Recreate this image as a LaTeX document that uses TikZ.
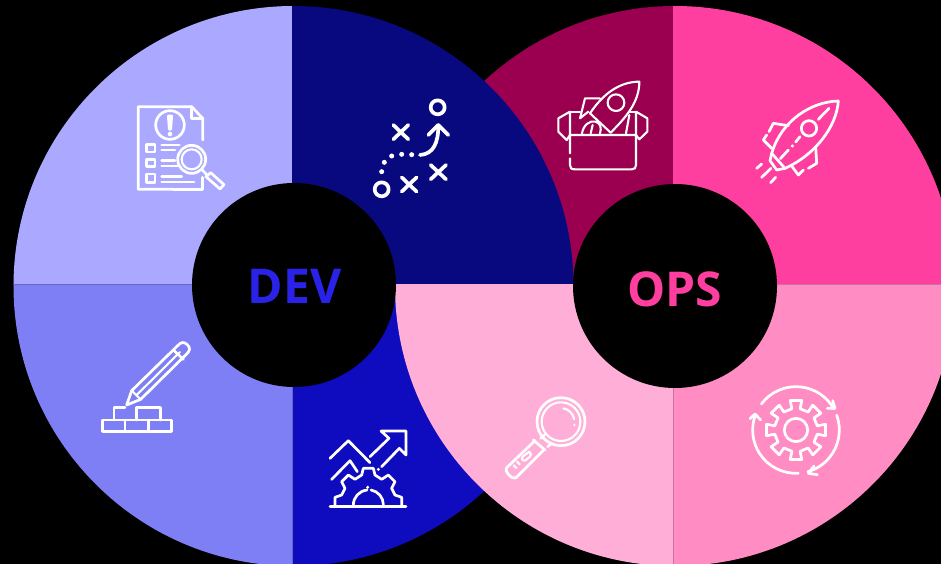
\documentclass[tikz,border=0pt]{standalone}
\usepackage{fontspec}
\setmainfont{Open Sans}
\definecolor{devTL}{HTML}{ABA9FF}
\definecolor{devTR}{HTML}{09097F}
\definecolor{devBL}{HTML}{7F7FF5}
\definecolor{devBR}{HTML}{0F0BBE}
\definecolor{opsTL}{HTML}{9B0050}
\definecolor{opsTR}{HTML}{FF3F9F}
\definecolor{opsBL}{HTML}{FFAFD7}
\definecolor{opsBR}{HTML}{FF8DC4}
\definecolor{devText}{HTML}{2A22E6}
\tikzset{
  seam/.style={line width=.4pt,draw=#1},
  icon/.style={draw=white,line width=2.7pt,line cap=round,line join=round},
  iconthin/.style={icon,line width=2.1pt},
  hub/.style={circle,fill=black,minimum size=204pt,inner sep=0pt},
  hublabel/.style={font=\fontsize{48}{48}\selectfont\bfseries,inner sep=0pt}
}
% colour, circle centre x, clip rectangle x0 y0 x1 y1
\newcommand{\quadrantfill}[6]{%
  \begin{scope}\clip (#3,#4) rectangle (#5,#6);
  \fill[#1] (#2,286) circle[radius=280];\end{scope}}
\begin{document}
\begin{tikzpicture}[x=1pt,y=1pt,yscale=-1]
\path[fill=black] (0,0) rectangle (941,564);
\useasboundingbox (0,0) rectangle (941,564);
\clip (0,0) rectangle (941,564);
% sectors
\quadrantfill{devBR}{293.5}{292}{284}{600}{570}
\quadrantfill{opsTL}{675}{380}{0}{673}{284}
\quadrantfill{devTL}{293.5}{0}{0}{292}{284}
\quadrantfill{devBL}{293.5}{0}{284}{292}{570}
\quadrantfill{devTR}{293.5}{292}{0}{600}{284}
\quadrantfill{opsBL}{675}{380}{284}{673}{570}
\quadrantfill{opsTR}{675}{673}{0}{960}{284}
\quadrantfill{opsBR}{675}{673}{284}{960}{570}
\draw[seam=devBL!80!black] (14,284) -- (292,284) -- (292,566);
\draw[seam=opsBR!80!black] (673,564) -- (673,284) -- (941,284);
% hubs
\node[hub] (devhub) at (294,285) {};
\node[hub] (opshub) at (675,286) {};
\node[hublabel,text=devText] (devlabel) at (294.5,286) {DEV};
\node[hublabel,text=opsTR] (opslabel) at (675,289) {OPS};
% icon: document with magnifier
\begin{scope}[shift={(120,90)},scale=1/3]
\draw[icon] (160,298) -- (55,298) -- (55,50) -- (215,50) -- (248,85) -- (248,150);
\draw[icon] (248,262) -- (248,298) -- (160,298);
\draw[icon] (215,50) -- (215,85) -- (248,85);
\draw[icon] (150,105) circle[radius=43];
\draw[icon] (145,78) -- (155,78) -- (152,118) -- (148,118) -- cycle;
\fill[white] (150,132) circle[radius=7];
\draw[icon] (80,163) rectangle (105,186);
\draw[icon] (80,208) rectangle (105,230);
\draw[icon] (80,252) rectangle (105,277);
\draw[icon] (125,165) -- (178,165) (125,180) -- (165,180);
\draw[icon] (125,212) -- (165,212) (125,228) -- (175,228);
\draw[icon] (125,260) -- (185,260) (125,276) -- (222,276);
\draw[icon] (215,208) circle[radius=42];
\draw[iconthin] (215,208) circle[radius=30];
\draw[icon] (247,240) -- (262,256);
\draw[icon] (258,260) -- (272,248) -- (312,284) -- (300,297) -- cycle;
\end{scope}
% icon: play diagram
\begin{scope}[shift={(360,90)},scale=1/3]
\tikzset{play/.style={draw=white,line width=3.7pt,line cap=round,line join=round}}
\draw[play] (233,52) circle[radius=21];
\draw[play] (65,298) circle[radius=21];
\draw[play] (100,105) -- (145,148) (145,105) -- (100,148);
\draw[play] (125,262) -- (170,305) (170,262) -- (125,305);
\draw[play] (212,225) -- (258,268) (258,225) -- (212,268);
\draw[play] (180,195) .. controls (220,192) and (235,160) .. (235,105);
\draw[play] (205,135) -- (235,105) -- (265,135);
\foreach \px/\py in {155/194,125/193,95/198,73/217,65/245}
  \fill[white] (\px,\py) circle[radius=7.5];
\end{scope}
% icon: pencil and bricks
\begin{scope}[shift={(90,330)},scale=1/3]
\draw[icon] (110,225) -- (125,182) -- (262,48) .. controls (272,36) and (282,34) .. (292,44) .. controls (302,54) and (300,62) .. (290,72) -- (152,208) -- cycle;
\draw[iconthin] (140,195) -- (270,66);
\draw[icon] (250,60) -- (280,88);
\draw[iconthin] (125,182) -- (152,208);
\draw[icon] (38,270) rectangle (105,305);
\draw[icon] (105,270) rectangle (175,305);
\draw[icon] (175,270) rectangle (245,305);
\draw[icon] (72,270) -- (72,232) -- (105,232);
\draw[icon] (140,270) -- (140,232) -- (212,232) -- (212,270);
\end{scope}
% icon: growth gear
\begin{scope}[shift={(320,420)},scale=1/3]
\draw[icon] (30,115) -- (85,62) -- (150,128);
\draw[icon] (150,110) -- (207,55) -- (183,33) -- (258,33) -- (258,105) -- (238,85) -- (185,140);
\draw[icon] (35,178) -- (90,122) -- (112,155);
\fill[white] (175,148) circle[radius=5];
\draw[icon] (30,260) -- (258,260);
\draw[icon] (45,255) -- (45,232) -- (65,225) -- (75,205) -- (65,185) -- (85,165) -- (105,178) -- (125,165) -- (130,145) -- (160,145) -- (165,165) -- (185,178) -- (205,165) -- (225,185) -- (215,205) -- (225,225) -- (245,232) -- (245,255);
\draw[icon] (100,255) arc[start angle=180,end angle=265,radius=45];
\draw[icon] (153,210) arc[start angle=280,end angle=360,radius=45];
\fill[white] (143,202) circle[radius=5];
\end{scope}
% icon: rocket in a box
\begin{scope}[shift={(550,70)},scale=1/3]
\draw[iconthin] (60,250) -- (60,195) -- (258,195) -- (258,285) .. controls (258,294) and (254,298) .. (245,298) -- (75,298) .. controls (64,298) and (60,294) .. (60,285) -- (60,265);
\draw[iconthin] (60,195) -- (60,125) -- (25,145) -- (25,185) -- (50,210) -- (60,195);
\draw[iconthin] (60,125) -- (90,125);
\draw[iconthin] (258,195) -- (258,125) -- (292,145) -- (292,185) -- (268,208) -- (258,195);
\draw[iconthin] (258,125) -- (240,125);
\draw[iconthin] (120,130) .. controls (160,70) and (210,35) .. (268,35) .. controls (268,95) and (230,140) .. (182,188);
\draw[iconthin] (120,130) -- (182,188);
\draw[iconthin] (198,98) circle[radius=25];
\draw[iconthin] (150,85) -- (105,85) -- (90,145) -- (115,125);
\draw[iconthin] (238,135) -- (228,190);
\draw[iconthin] (96,190) .. controls (100,165) and (120,150) .. (137,155) .. controls (152,160) and (155,175) .. (150,190);
\draw[iconthin] (122,190) -- (128,165);
\end{scope}
% icon: rocket
\begin{scope}[shift={(745,90)},scale=1/3]
\draw[icon] (80,190) .. controls (110,90) and (200,35) .. (280,33) .. controls (275,110) and (210,195) .. (120,235);
\draw[icon] (80,190) -- (75,212) -- (95,240) -- (120,235);
\draw[icon] (80,190) -- (120,235);
\draw[icon] (252,55) -- (220,88);
\draw[icon] (192,115) circle[radius=23];
\draw[icon] (165,140) -- (152,156);
\fill[white] (142,168) circle[radius=5];
\draw[icon] (130,180) -- (106,206);
\draw[icon] (130,107) -- (85,100) -- (72,125);
\draw[icon] (65,135) -- (55,150) -- (80,175);
\draw[icon] (212,170) -- (215,220) -- (190,235);
\draw[icon] (175,240) -- (160,255) -- (140,228);
\draw[icon] (35,235) -- (50,222);
\draw[icon] (50,262) -- (78,235);
\draw[icon] (77,278) -- (92,262);
\end{scope}
% icon: magnifier
\begin{scope}[shift={(495,390)},scale=1/3]
\draw[icon] (198,95) circle[radius=72];
\draw[iconthin] (198,95) circle[radius=58];
\draw[iconthin] (205,55) arc[start angle=-80,end angle=-10,radius=40];
\fill[white] (238,105) circle[radius=4];
\draw[icon] (115,150) -- (150,180);
\draw[icon] (137,145) -- (148,135) (158,170) -- (170,160);
\draw[icon] (120,152) -- (36,232) .. controls (30,240) and (35,248) .. (45,258) .. controls (55,266) and (62,266) .. (68,258) -- (148,178);
\draw[iconthin] (85,198) -- (103,185) .. controls (110,190) and (108,196) .. (105,200) -- (90,212) .. controls (80,212) and (78,204) .. (85,198);
\draw[iconthin] (66,215) -- (74,223) (56,226) -- (64,234);
\end{scope}
% icon: gear in cycle
\begin{scope}[shift={(740,380)},scale=1/3]
\draw[icon] (168,150) circle[radius=35];
\draw[icon] (168,150) +(-11:65) \foreach \ang in {0,45,...,315} {
  -- +(\ang-11:65) -- +(\ang-11:90) -- +(\ang+11:90) -- +(\ang+11:65) } -- cycle;
\draw[icon] (168,150) +(217:130) arc[start angle=217,end angle=331,radius=130];
\draw[icon] (285,85) -- (262,85) (285,85) -- (278,62);
\draw[icon] (168,150) +(-20:130) arc[start angle=-20,end angle=74,radius=130];
\draw[icon] (205,280) -- (222,258) (205,280) -- (232,284);
\draw[icon] (168,150) +(87:130) arc[start angle=87,end angle=200,radius=130];
\draw[icon] (45,102) -- (30,116) (45,102) -- (62,120);
\end{scope}
\end{tikzpicture}
\end{document}
